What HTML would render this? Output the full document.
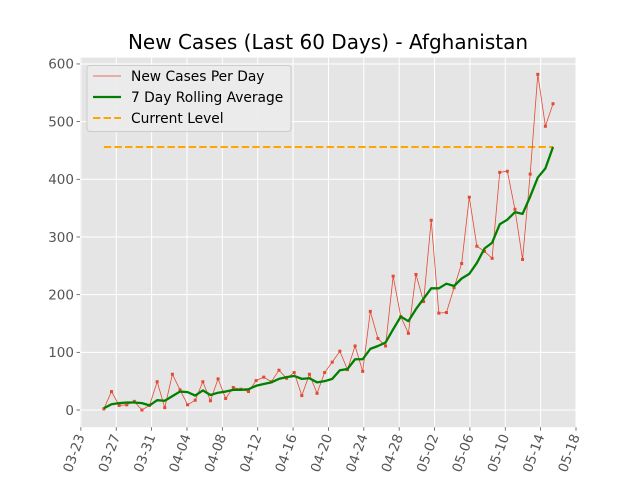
<!DOCTYPE html>
<html><head><meta charset="utf-8"><style>
body{margin:0;background:#fff;}
svg{display:block;font-family:"DejaVu Sans","Liberation Sans",sans-serif;}
</style></head><body>
<svg id="chart" width="640" height="480">
<rect x="0" y="0" width="640" height="480" fill="#fff"/>
<text x="328" y="49" text-anchor="middle" font-size="20" fill="#000">New Cases (Last 60 Days) - Afghanistan</text>
</svg>
<script>
const dailyCases=[2,32,8,9,15,0,8,49,4,62,35,9,17,49,16,54,20,39,36,32,51,57,49,69,55,65,25,62,29,65,83,102,70,111,67,171,124,111,232,162,133,235,188,329,168,169,212,254,369,284,275,263,412,414,348,261,409,582,492,531];
const rollingAvg=[3,10,12,13,13,12,8,17,16,24,32,31,25,34,26,30,32,35,35,36,42,45,48,54,57,59,54,55,48,50,54,69,71,88,88,106,111,117,140,162,154,175,193,211,211,219,215,228,236,255,280,290,322,330,343,340,370,403,419,456];
const currentLevel=[456];
const yTicks=[0,100,200,300,400,500,600];
const xTickLabels=["03-23","03-27","03-31","04-04","04-08","04-12","04-16","04-20","04-24","04-28","05-02","05-06","05-10","05-14","05-18"];
const L=80,R=576,T=57.6,B=427.2;
const xMin=-0.1,xMax=56,yMin=-29.8,yMax=611;
const firstDay=2.6,dayStep=50.8/59;
const NS="http://www.w3.org/2000/svg";
const svg=document.getElementById('chart');
function xs(d){return L+(d-xMin)/(xMax-xMin)*(R-L);}
function ys(v){return B-(v-yMin)/(yMax-yMin)*(B-T);}
function mk(tag,attrs){const e=document.createElementNS(NS,tag);for(const k in attrs)e.setAttribute(k,attrs[k]);svg.appendChild(e);return e;}
let e=mk('rect',{x:L,y:T,width:R-L,height:B-T,fill:'#e5e5e5'});


yTicks.forEach(v=>{
 const y=ys(v);
 let g=mk('line',{x1:L,x2:R,y1:y,y2:y,stroke:'#fff','stroke-width':1});
 
 
 let t=mk('line',{x1:L-3.5,x2:L,y1:y,y2:y,stroke:'#555','stroke-width':0.8});
 
 
 let tx=mk('text',{x:L-6,y:y+4.8,'text-anchor':'end','font-size':13.5,fill:'#555'});
 tx.textContent=v;
 
 
});
xTickLabels.forEach((lab,i)=>{
 const x=xs(i*4);
 let g=mk('line',{x1:x,x2:x,y1:T,y2:B,stroke:'#fff','stroke-width':1});
 
 
 let t=mk('line',{x1:x,x2:x,y1:B,y2:B+3.5,stroke:'#555','stroke-width':0.8});
 
 
 let tx=mk('text',{x:x+4,y:B+9,'text-anchor':'end','font-size':13.5,fill:'#555',transform:`rotate(-70 ${x+4} ${B+9})`});
 tx.textContent=lab;
 
 
});
const px=i=>xs(firstDay+i*dayStep);
let lv=mk('line',{x1:px(0),x2:px(dailyCases.length-1),y1:ys(currentLevel[0]),y2:ys(currentLevel[0]),stroke:'#FFA500','stroke-width':2,'stroke-dasharray':'7.4,3.2'});


let rp=mk('polyline',{points:dailyCases.map((v,i)=>px(i)+','+ys(v)).join(' '),fill:'none',stroke:'#E24A33','stroke-width':0.8});


dailyCases.forEach((v,i)=>{
 let m=mk('rect',{x:px(i)-1.5,y:ys(v)-1.5,width:3,height:3,fill:'#E24A33'});
 
 
});
let gp=mk('polyline',{points:rollingAvg.map((v,i)=>px(i)+','+ys(v)).join(' '),fill:'none',stroke:'#008000','stroke-width':2.3,'stroke-linejoin':'round'});


let lb=mk('rect',{x:87,y:65.5,width:204,height:66,rx:3,fill:'#ebebeb','fill-opacity':0.9,stroke:'#cccccc','stroke-width':1});


const legendItems=[["New Cases Per Day",'#E24A33',0.8,''],["7 Day Rolling Average",'#008000',2.3,''],["Current Level",'#FFA500',2,'7.4,3.2']];
legendItems.forEach((it,i)=>{
 const y=76+i*21;
 let ln=mk('line',{x1:93,x2:121,y1:y,y2:y,stroke:it[1],'stroke-width':it[2],'stroke-dasharray':it[3]});
 
 
 let tx=mk('text',{x:131,y:y+5,'font-size':13.8,fill:'#000'});
 tx.textContent=it[0];
 
 
});
</script>
</body></html>
